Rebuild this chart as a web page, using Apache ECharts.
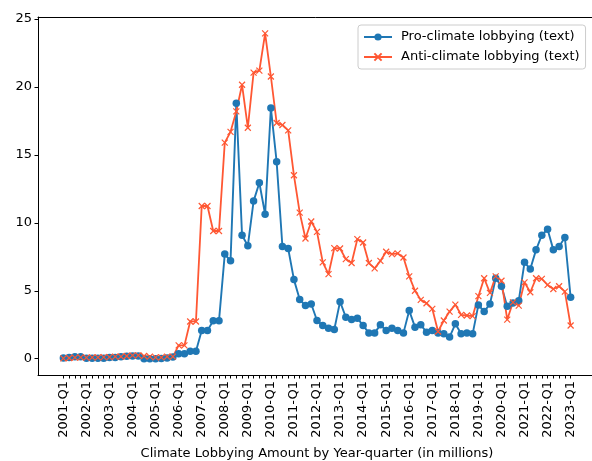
<!DOCTYPE html>
<html>
<head>
<meta charset="utf-8">
<script src="https://cdn.jsdelivr.net/npm/echarts@6/dist/echarts.min.js"></script>
<style>html,body{margin:0;padding:0;background:#fff}#c{width:592px;height:461px}</style>
</head>
<body>
<div id="c"></div>
<script>
const years = [];
for (let y = 2001; y <= 2023; y++) years.push(y);
const categories = [];
years.forEach(y => { ['Q1','Q2','Q3','Q4'].forEach(q => { if (!(y === 2023 && q !== 'Q1')) categories.push(y + '-' + q); }); });

const proClimate = [0.05,0.08,0.15,0.15,0.03,0.03,0.03,0.03,0.08,0.08,0.15,0.18,0.2,0.2,0.0,0.0,0.0,0.02,0.05,0.12,
  0.37,0.37,0.54,0.54,2.07,2.07,2.8,2.8,7.7,7.2,18.8,9.09,
  8.31,11.6,12.95,10.63,18.45,14.49,8.26,8.11,5.82,4.35,3.91,4.03,2.81,2.44,2.25,2.15,4.2,3.05,2.88,2.98,2.44,1.9,1.9,2.49,2.07,2.25,2.07,
  1.9,3.54,2.32,2.49,1.95,2.07,1.9,1.83,1.59,2.57,1.83,1.9,1.83,3.96,3.47,4.03,5.92,5.33,3.86,4.1,4.27,7.09,6.6,8.01,9.09,9.53,8.01,8.26,8.92,4.52];
const antiClimate = [0.02,0.05,0.08,0.1,0.08,0.1,0.1,0.12,0.12,0.15,0.15,0.2,0.25,0.25,0.2,0.15,0.1,0.1,0.15,0.15,
  0.98,0.98,2.74,2.74,11.24,11.24,9.4,9.4,
  15.9,16.7,18.2,20.16,17.0,21.06,21.2,23.95,20.77,17.35,17.2,16.8,13.5,10.75,8.85,10.1,9.33,7.09,6.23,8.14,8.11,7.33,7.04,8.8,8.55,7.04,6.65,7.2,7.87,7.7,7.75,
  7.45,6.06,5.0,4.33,4.08,3.67,2.0,2.81,3.47,3.98,3.23,3.18,3.13,4.6,5.92,4.84,6.06,5.74,2.88,4.15,3.91,5.62,4.89,5.92,5.87,5.43,5.13,5.33,4.94,2.44];
const yTicks = [0,5,10,15,20,25];
const labelEvery = 4;

const idx = categories.map((c, i) => i);
const labelIdx = idx.filter(i => i % labelEvery === 0);
const n = categories.length;
const pad = 0.05 * (n - 1);
const FONT = 'DejaVu Sans';
const FS = 13;

const chart = echarts.init(document.getElementById('c'), null, {renderer: 'canvas'});
chart.setOption({
  animation: false,
  backgroundColor: '#fff',
  textStyle: {fontFamily: FONT},
  grid: {left: 38, top: 17, right: -4, bottom: 86, outerBoundsMode: 'none', containLabel: false, show: false},
  legend: {
    orient: 'vertical', left: 358, top: 25,
    padding: [5, 6, 5, 5], itemGap: 6, itemWidth: 28, itemHeight: 9,
    borderColor: '#cccccc', borderWidth: 1, borderRadius: 3, backgroundColor: 'rgba(255,255,255,0.8)',
    textStyle: {fontFamily: FONT, fontSize: FS, lineHeight: 14, color: '#000', padding: [0, 0, 0, 4]},
    data: ['Pro-climate lobbying (text)', 'Anti-climate lobbying (text)']
  },
  xAxis: [{
    type: 'value', min: -pad, max: (n - 1) + pad,
    name: 'Climate Lobbying Amount by Year-quarter (in millions)',
    nameLocation: 'middle', nameGap: 72,
    nameTextStyle: {fontFamily: FONT, fontSize: FS, color: '#000'},
    axisLine: {show: true, onZero: false, lineStyle: {color: '#000', width: 1}},
    axisTick: {show: true, inside: false, length: 3.5, lineStyle: {color: '#000'}, customValues: idx},
    axisLabel: {rotate: 90, margin: 6, fontFamily: FONT, fontSize: FS, color: '#000', customValues: labelIdx,
      formatter: v => categories[Math.round(v)] || ''},
    splitLine: {show: false}
  }, {
    type: 'value', position: 'top', min: -pad, max: (n - 1) + pad,
    axisLine: {show: true, onZero: false, lineStyle: {color: '#000', width: 1}},
    axisTick: {show: false}, axisLabel: {show: false}, splitLine: {show: false}
  }],
  yAxis: {
    type: 'value', min: -1.2, max: 25.15,
    axisLine: {show: true, onZero: false, lineStyle: {color: '#000', width: 1}},
    axisTick: {show: true, length: 3.5, lineStyle: {color: '#000'}, customValues: yTicks},
    axisLabel: {margin: 6, fontFamily: FONT, fontSize: FS, color: '#000', customValues: yTicks},
    splitLine: {show: false}
  },
  series: [
    {
      name: 'Pro-climate lobbying (text)', type: 'line', xAxisIndex: 0,
      data: proClimate.map((v, i) => [i, v]),
      symbol: 'circle', symbolSize: 7.5, showAllSymbol: true,
      lineStyle: {color: '#1f77b4', width: 1.9},
      itemStyle: {color: '#1f77b4'}
    },
    {
      name: 'Anti-climate lobbying (text)', type: 'line', xAxisIndex: 0,
      data: antiClimate.map((v, i) => [i, v]),
      symbol: 'path://M0,0L10,10M10,0L0,10', symbolSize: 6, showAllSymbol: true,
      lineStyle: {color: '#ff5733', width: 1.8},
      itemStyle: {color: 'rgba(0,0,0,0)', borderColor: '#ff5733', borderWidth: 1.2}
    }
  ]
});
</script>
</body>
</html>
